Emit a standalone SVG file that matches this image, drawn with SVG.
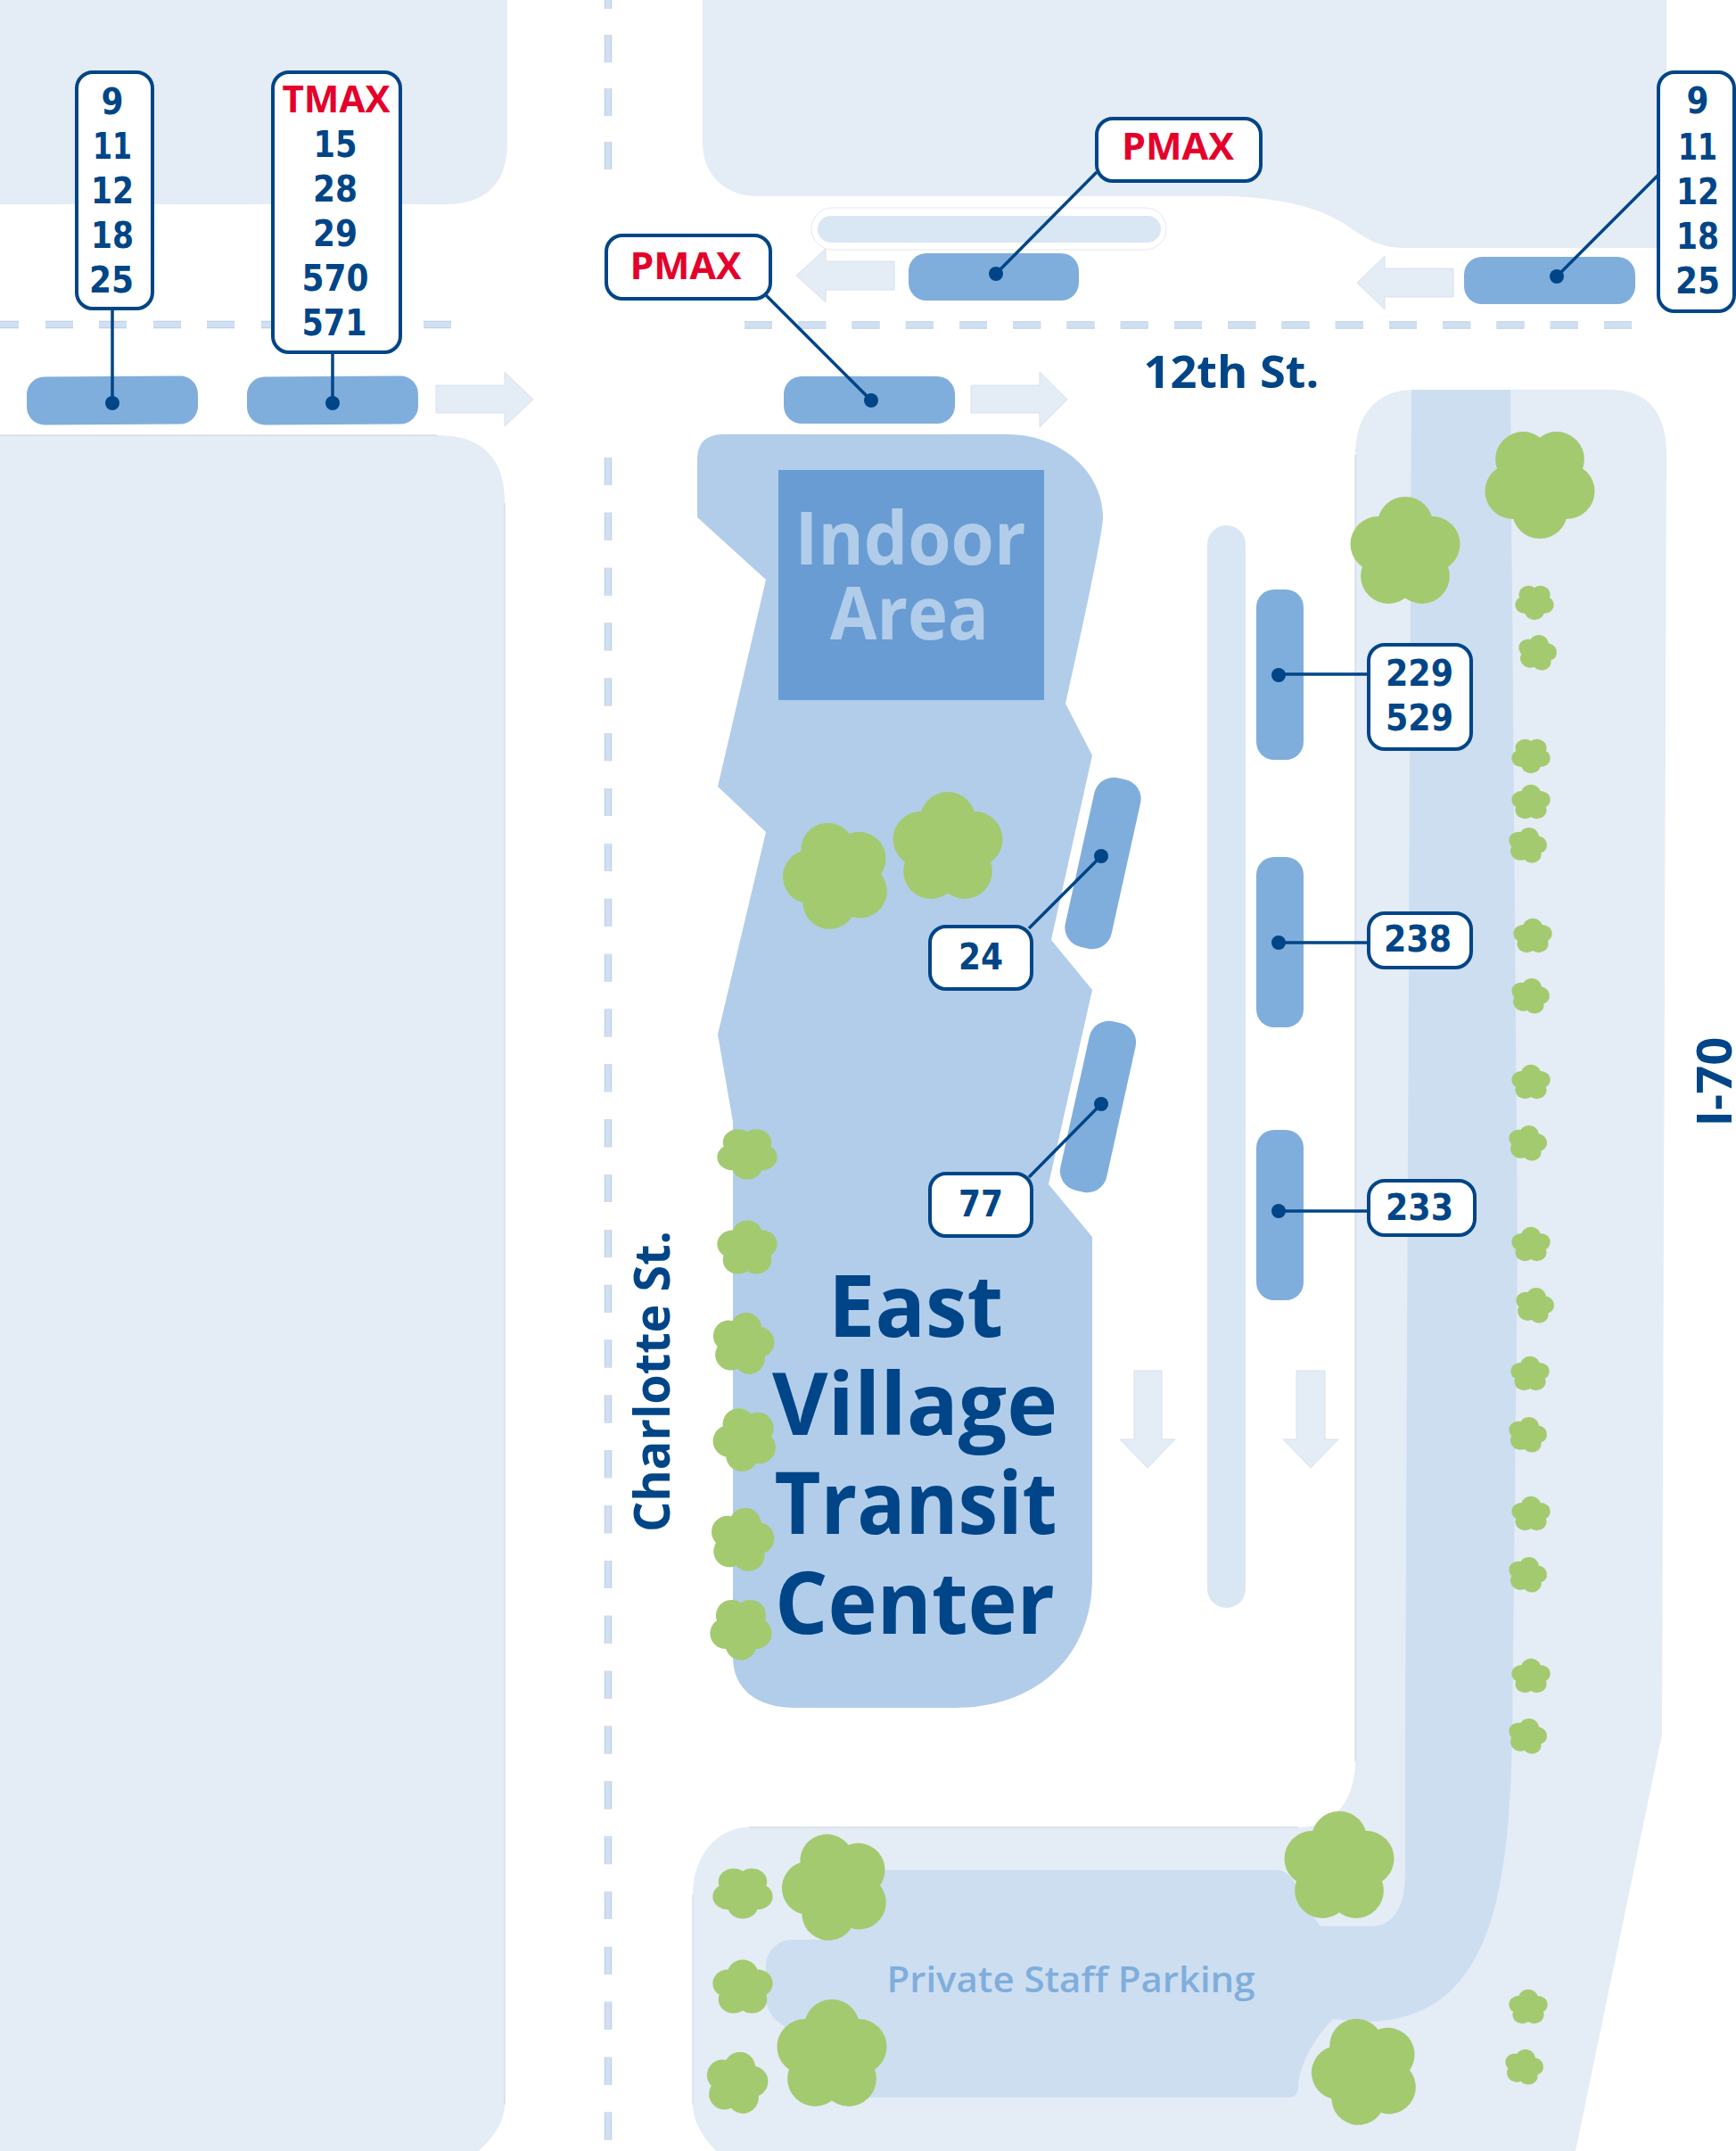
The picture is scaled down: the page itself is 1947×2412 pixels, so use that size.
<svg xmlns="http://www.w3.org/2000/svg" xmlns:xlink="http://www.w3.org/1999/xlink" width="1947" height="2412" viewBox="0 0 1947 2412">
<style>
.block{fill:#e4ecf6}
.road{fill:#cddef0}
.bld{fill:#b2cdea}
.pill{fill:#d9e6f4}
.stop{fill:#80aedc}
.dash0{fill:none;stroke:#bfcedf;stroke-width:8.500}
.dash{fill:none;stroke:#cfe0f4;stroke-width:6.500}
.edge{fill:none;stroke:#c6d3e2;stroke-width:1}
.arrow{fill:#e4ecf6;stroke:#d6e1ee;stroke-width:1}
.box{fill:#fff;stroke:#004587;stroke-width:4}
.lead{fill:none;stroke:#004587;stroke-width:3.500}
.dot{fill:#004587}
.n{font-family:"DejaVu Sans",sans-serif;font-weight:700;font-size:40px;fill:#004587;text-anchor:middle}
.r{font-family:"Open Sans",sans-serif;font-weight:700;font-size:41px;fill:#e4002b;text-anchor:middle}
.t{font-family:"Open Sans",sans-serif;font-weight:700;fill:#004587;text-anchor:middle}
.tree{fill:#a3ca6f}
</style>
<defs>
<g id="lobes"><circle cx="0" cy="-0.5" r="0.485"/><circle cx="0.476" cy="-0.155" r="0.485"/><circle cx="0.294" cy="0.405" r="0.485"/><circle cx="-0.294" cy="0.405" r="0.485"/><circle cx="-0.476" cy="-0.155" r="0.485"/><circle cx="0" cy="0" r="0.5"/></g>
<path id="hd" d="M0,364H21M51,364H82M111,364H142M172,364H203M232,364H263M293,364H324M354,364H385M414,364H445M475,364H506"/>
<path id="hd2" d="M835,364.500H1831" stroke-dasharray="31 29.250"/>
<path id="vd" d="M682,0V10M682,39V70M682,99V130M682,159V190"/>
<path id="vd2" d="M682,513V2412" stroke-dasharray="31 30.850"/>
</defs>
<g id="ground">
<path class="block" d="M0,0H569V159Q569,229 499,229H0Z"/>
<path class="block" d="M0,488H490Q566,488 566,564V2360Q566,2385 537,2412H0Z"/>
<path class="block" d="M788,0H1869V278H1575C1550,278 1535,270 1515,256C1480,230 1430,222 1378,220H850C812,220 788,195 788,160Z"/>
<path class="block" d="M1585,437H1805Q1869,437 1869,510L1864,1945L1767,2412H803Q777,2385 777,2360V2125C777,2080 805,2049 840,2049H1456C1495,2049 1520,2020 1520,1975V510C1520,465 1545,437 1585,437Z"/>
<path class="edge" d="M566,564V2360M777,2125V2360M1520,510V1975M840,2049H1456M0,488H490"/>
<path class="road" d="M1583,437H1694L1702,1400L1696,1950C1692,2130 1670,2267 1530,2267L1495,2264C1470,2290 1456,2320 1456,2340Q1456,2352 1444,2352H940V2290L882,2273C865,2265 859,2250 859,2240V2205C859,2190 870,2175 890,2175H923L945,2160V2097H1432Q1450,2097 1460,2130L1481,2160H1537C1562,2160 1576,2140 1576,2100V1950L1579,1300Z"/>
<rect x="910" y="233" width="398" height="47" rx="23.500" fill="#fff" stroke="#e2e8ef" stroke-width="1"/>
<rect class="pill" x="917" y="242" width="385" height="30" rx="15"/>
<rect class="pill" x="1354" y="589" width="43" height="1214" rx="21.500"/>
<use class="dash0" xlink:href="#hd" href="#hd"/><use class="dash" xlink:href="#hd" href="#hd"/>
<use class="dash0" xlink:href="#hd2" href="#hd2"/><use class="dash" xlink:href="#hd2" href="#hd2"/>
<use class="dash0" xlink:href="#vd" href="#vd"/><use class="dash" xlink:href="#vd" href="#vd"/>
<use class="dash0" xlink:href="#vd2" href="#vd2"/><use class="dash" xlink:href="#vd2" href="#vd2"/>
</g>
<g id="arrows">
<path class="arrow" d="M489,432H566V417L598,448L566,478V463H489Z"/>
<path class="arrow" d="M1089,432H1166V417L1197,448L1166,479V463H1089Z"/>
<path class="arrow" d="M1003,293H926V279L893,309L926,339V325H1003Z"/>
<path class="arrow" d="M1630,301H1553V287L1522,317L1553,347V333H1630Z"/>
<path class="arrow" d="M1272,1537H1303V1614H1318L1287,1646L1256,1614H1272Z"/>
<path class="arrow" d="M1454,1537H1486V1614H1501L1470,1646L1439,1614H1454Z"/>
</g>
<g id="building">
<path class="bld" d="M782,515Q782,487 812,487H1130C1190,487 1237,530 1237,580Q1237,600 1195,789L1225,847L1179,1054L1225,1110L1176,1328L1225,1387V1769C1225,1860 1160,1915 1071,1915H892C850,1915 822,1895 822,1858V1258L805,1160L859,933L805,882L859,650L782,580Z"/>
<rect x="873" y="527" width="298" height="258" fill="#699cd3"/>
<text x="1021" y="633" class="t" style="font-size:82px;fill:#b2cdea" textLength="259" lengthAdjust="spacingAndGlyphs">Indoor</text>
<text x="1020" y="717" class="t" style="font-size:82px;fill:#b2cdea" textLength="178" lengthAdjust="spacingAndGlyphs">Area</text>
<text x="1027" y="1499" class="t" style="font-size:96px" textLength="196" lengthAdjust="spacingAndGlyphs">East</text>
<text x="1026" y="1609" class="t" style="font-size:96px" textLength="320" lengthAdjust="spacingAndGlyphs">Village</text>
<text x="1027" y="1720" class="t" style="font-size:96px" textLength="317" lengthAdjust="spacingAndGlyphs">Transit</text>
<text x="1026" y="1832" class="t" style="font-size:96px" textLength="314" lengthAdjust="spacingAndGlyphs">Center</text>
</g>
<g id="street-labels">
<text x="1381" y="435" class="t" style="font-size:50px" textLength="197" lengthAdjust="spacingAndGlyphs">12th St.</text>
<text transform="translate(751,1549) rotate(-90)" class="t" style="font-size:55px" textLength="338" lengthAdjust="spacingAndGlyphs">Charlotte St.</text>
<text transform="translate(1942,1213) rotate(-90)" class="t" style="font-size:54px" textLength="101" lengthAdjust="spacingAndGlyphs">I-70</text>
<text x="1201" y="2234" class="t" style="font-size:40px;fill:#80aedc;font-weight:600" textLength="413" lengthAdjust="spacingAndGlyphs">Private Staff Parking</text>
</g>
<g id="stops">
<rect id="stop-a" class="stop" x="30" y="422" width="192" height="54" rx="20" transform="rotate(-0.4 126 449)"/>
<rect id="stop-b" class="stop" x="277" y="422" width="192" height="54" rx="20" transform="rotate(-0.4 373 449)"/>
<rect id="stop-c" class="stop" x="879" y="422" width="192" height="53" rx="20"/>
<rect id="stop-d" class="stop" x="1019" y="284" width="191" height="53" rx="20"/>
<rect id="stop-e" class="stop" x="1642" y="288" width="192" height="53" rx="20"/>
<rect id="stop-f" class="stop" x="1409" y="661" width="53" height="191" rx="20"/>
<rect id="stop-g" class="stop" x="1409" y="961" width="53" height="191" rx="20"/>
<rect id="stop-h" class="stop" x="1409" y="1267" width="53" height="191" rx="20"/>
<rect id="stop-i" class="stop" x="1210.500" y="871" width="53" height="194" rx="22" transform="rotate(12.500 1237 968)"/>
<rect id="stop-j" class="stop" x="1205" y="1144" width="53" height="194" rx="22" transform="rotate(12.500 1231.500 1241)"/>
</g>
<g id="connectors">
<path class="lead" d="M126,346V452"/>
<path class="lead" d="M373,395V452"/>
<path class="lead" d="M858,330L977,449"/>
<path class="lead" d="M1230,193L1117,307"/>
<path class="lead" d="M1860,196L1746,310"/>
<path class="lead" d="M1154,1041L1235,960"/>
<path class="lead" d="M1154,1320L1235,1238"/>
<path class="lead" d="M1434,756H1534"/>
<path class="lead" d="M1434,1057H1534"/>
<path class="lead" d="M1434,1358H1534"/>
<circle class="dot" cx="126" cy="452" r="8"/>
<circle class="dot" cx="373" cy="452" r="8"/>
<circle class="dot" cx="977" cy="449" r="8"/>
<circle class="dot" cx="1117" cy="307" r="8"/>
<circle class="dot" cx="1746" cy="310" r="8"/>
<circle class="dot" cx="1235" cy="960" r="8"/>
<circle class="dot" cx="1235" cy="1238" r="8"/>
<circle class="dot" cx="1434" cy="757" r="8"/>
<circle class="dot" cx="1434" cy="1057" r="8"/>
<circle class="dot" cx="1434" cy="1358" r="8"/>
</g>
<g id="label-a">
<rect class="box" x="86" y="81" width="85" height="265" rx="18"/>
<text class="n" x="126" y="128" textLength="25" lengthAdjust="spacingAndGlyphs">9</text>
<text class="n" x="126" y="178" textLength="44" lengthAdjust="spacingAndGlyphs">11</text>
<text class="n" x="126" y="228" textLength="48" lengthAdjust="spacingAndGlyphs">12</text>
<text class="n" x="126" y="278" textLength="48" lengthAdjust="spacingAndGlyphs">18</text>
<text class="n" x="125" y="328" textLength="50" lengthAdjust="spacingAndGlyphs">25</text>
</g>
<g id="label-b">
<rect class="box" x="306" y="81" width="143" height="314" rx="18"/>
<text class="r" x="377" y="125.500" textLength="121" lengthAdjust="spacingAndGlyphs">TMAX</text>
<text class="n" x="376" y="176" textLength="49" lengthAdjust="spacingAndGlyphs">15</text>
<text class="n" x="376" y="226" textLength="50" lengthAdjust="spacingAndGlyphs">28</text>
<text class="n" x="376" y="276" textLength="50" lengthAdjust="spacingAndGlyphs">29</text>
<text class="n" x="376" y="326" textLength="75" lengthAdjust="spacingAndGlyphs">570</text>
<text class="n" x="375" y="376" textLength="73" lengthAdjust="spacingAndGlyphs">571</text>
</g>
<g id="label-c">
<rect class="box" x="680" y="264" width="184" height="71" rx="18"/>
<text class="r" x="769" y="313" textLength="125" lengthAdjust="spacingAndGlyphs">PMAX</text>
</g>
<g id="label-d">
<rect class="box" x="1230" y="133" width="184" height="70" rx="18"/>
<text class="r" x="1321" y="178.500" textLength="126" lengthAdjust="spacingAndGlyphs">PMAX</text>
</g>
<g id="label-e">
<rect class="box" x="1860" y="81" width="85" height="268" rx="18"/>
<text class="n" x="1904" y="127" textLength="25" lengthAdjust="spacingAndGlyphs">9</text>
<text class="n" x="1904" y="179" textLength="44" lengthAdjust="spacingAndGlyphs">11</text>
<text class="n" x="1904" y="229" textLength="48" lengthAdjust="spacingAndGlyphs">12</text>
<text class="n" x="1904" y="279" textLength="48" lengthAdjust="spacingAndGlyphs">18</text>
<text class="n" x="1904" y="329" textLength="50" lengthAdjust="spacingAndGlyphs">25</text>
</g>
<g id="label-24">
<rect class="box" x="1043" y="1039" width="114" height="70" rx="18"/>
<text class="n" x="1100" y="1087" textLength="50" lengthAdjust="spacingAndGlyphs">24</text>
</g>
<g id="label-77">
<rect class="box" x="1043" y="1316" width="114" height="70" rx="18"/>
<text class="n" x="1100" y="1364" textLength="50" lengthAdjust="spacingAndGlyphs">77</text>
</g>
<g id="label-229">
<rect class="box" x="1535" y="723" width="115" height="117" rx="18"/>
<text class="n" x="1592" y="769" textLength="76" lengthAdjust="spacingAndGlyphs">229</text>
<text class="n" x="1592" y="819" textLength="76" lengthAdjust="spacingAndGlyphs">529</text>
</g>
<g id="label-238">
<rect class="box" x="1535" y="1024" width="115" height="61" rx="18"/>
<text class="n" x="1590" y="1067" textLength="76" lengthAdjust="spacingAndGlyphs">238</text>
</g>
<g id="label-233">
<rect class="box" x="1535" y="1324" width="119" height="61" rx="18"/>
<text class="n" x="1592" y="1368" textLength="76" lengthAdjust="spacingAndGlyphs">233</text>
</g>
<g id="trees" class="tree">
<use xlink:href="#lobes" href="#lobes" transform="translate(1727,541) rotate(180) scale(64)"/>
<use xlink:href="#lobes" href="#lobes" transform="translate(1576,620) scale(64)"/>
<use xlink:href="#lobes" href="#lobes" transform="translate(939,982) rotate(196) scale(62)"/>
<use xlink:href="#lobes" href="#lobes" transform="translate(1063,951) scale(64)"/>
<use xlink:href="#lobes" href="#lobes" transform="translate(1502,2094) scale(64)"/>
<use xlink:href="#lobes" href="#lobes" transform="translate(938,2116) rotate(196) scale(62)"/>
<use xlink:href="#lobes" href="#lobes" transform="translate(933,2305) scale(64)"/>
<use xlink:href="#lobes" href="#lobes" transform="translate(1532,2323) rotate(196) scale(62)"/>
<use xlink:href="#lobes" href="#lobes" transform="translate(838,1293) rotate(180) scale(35,30)"/>
<use xlink:href="#lobes" href="#lobes" transform="translate(838,1400) scale(35,32)"/>
<use xlink:href="#lobes" href="#lobes" transform="translate(833,1507) rotate(12) scale(36)"/>
<use xlink:href="#lobes" href="#lobes" transform="translate(836,1614) rotate(-24) scale(37)"/>
<use xlink:href="#lobes" href="#lobes" transform="translate(832,1727) rotate(12) scale(37)"/>
<use xlink:href="#lobes" href="#lobes" transform="translate(831,1826) rotate(36) scale(36)"/>
<use xlink:href="#lobes" href="#lobes" transform="translate(833,2122) rotate(180) scale(35,30)"/>
<use xlink:href="#lobes" href="#lobes" transform="translate(833,2229) scale(35,32)"/>
<use xlink:href="#lobes" href="#lobes" transform="translate(826,2336) rotate(12) scale(36)"/>
<use xlink:href="#lobes" href="#lobes" transform="translate(1721,675) rotate(180) scale(22.500,20.500)"/>
<use xlink:href="#lobes" href="#lobes" transform="translate(1724,732) rotate(12) scale(22.500,20.500)"/>
<use xlink:href="#lobes" href="#lobes" transform="translate(1717,847) rotate(180) scale(22.500,20.500)"/>
<use xlink:href="#lobes" href="#lobes" transform="translate(1717,900) scale(22.500,20.500)"/>
<use xlink:href="#lobes" href="#lobes" transform="translate(1713,948) rotate(12) scale(22.500,20.500)"/>
<use xlink:href="#lobes" href="#lobes" transform="translate(1719,1050) scale(22.500,20.500)"/>
<use xlink:href="#lobes" href="#lobes" transform="translate(1716,1117) rotate(12) scale(22.500,20.500)"/>
<use xlink:href="#lobes" href="#lobes" transform="translate(1717,1214) scale(22.500,20.500)"/>
<use xlink:href="#lobes" href="#lobes" transform="translate(1713,1282) rotate(12) scale(22.500,20.500)"/>
<use xlink:href="#lobes" href="#lobes" transform="translate(1717,1396) scale(22.500,20.500)"/>
<use xlink:href="#lobes" href="#lobes" transform="translate(1721,1464) rotate(12) scale(22.500,20.500)"/>
<use xlink:href="#lobes" href="#lobes" transform="translate(1716,1541) scale(22.500,20.500)"/>
<use xlink:href="#lobes" href="#lobes" transform="translate(1713,1609) rotate(12) scale(22.500,20.500)"/>
<use xlink:href="#lobes" href="#lobes" transform="translate(1717,1698) scale(22.500,20.500)"/>
<use xlink:href="#lobes" href="#lobes" transform="translate(1713,1766) rotate(12) scale(22.500,20.500)"/>
<use xlink:href="#lobes" href="#lobes" transform="translate(1717,1880) scale(22.500,20.500)"/>
<use xlink:href="#lobes" href="#lobes" transform="translate(1713,1947) rotate(12) scale(22.500,20.500)"/>
<use xlink:href="#lobes" href="#lobes" transform="translate(1714,2251) scale(22.500,20.500)"/>
<use xlink:href="#lobes" href="#lobes" transform="translate(1709,2318) rotate(12) scale(22.500,20.500)"/>
</g>
</svg>
